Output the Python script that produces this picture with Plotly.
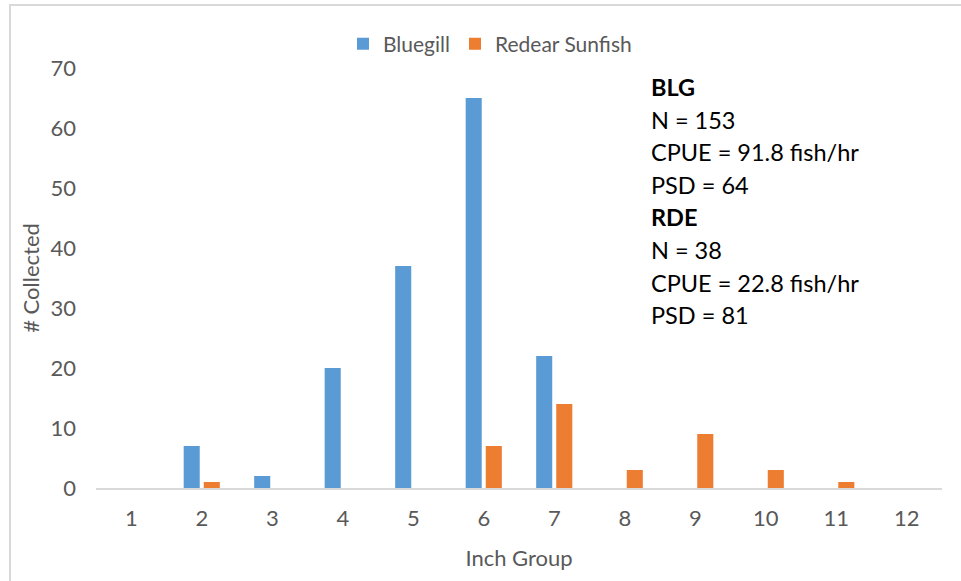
import plotly.graph_objects as go

inch_groups = ["1", "2", "3", "4", "5", "6", "7", "8", "9", "10", "11", "12"]
bluegill = [0, 7, 2, 20, 37, 65, 22, 0, 0, 0, 0, 0]
redear = [0, 1, 0, 0, 0, 7, 14, 3, 9, 3, 1, 0]
stats_lines = ["<b>BLG</b>", "N = 153", "CPUE = 91.8 fish/hr", "PSD = 64",
               "<b>RDE</b>", "N = 38", "CPUE = 22.8 fish/hr", "PSD = 81"]

FONT = "Lato, 'Open Sans', sans-serif"
GRAY = "#595959"

fig = go.Figure()
fig.add_trace(go.Bar(x=inch_groups, y=bluegill, name="Bluegill",
                     marker=dict(color="#5B9BD5", line=dict(width=0))))
fig.add_trace(go.Bar(x=inch_groups, y=redear, name="Redear Sunfish",
                     marker=dict(color="#ED7D31", line=dict(width=0))))

W, H = 961, 581
ml, mr, mt, mb = 96, 19, 68, 93
pw, ph = W - ml - mr, H - mt - mb

def px_to_paper_x(px):
    return (px - ml) / pw

def px_to_paper_y(py):
    return (H - mb - py) / ph

annotations = []
for i, line in enumerate(stats_lines):
    annotations.append(dict(
        text=line, xref="paper", yref="paper",
        x=px_to_paper_x(649), y=px_to_paper_y(87 + i * 32.6),
        xanchor="left", yanchor="middle", showarrow=False, align="left",
        font=dict(family=FONT, size=23.5, color="#000000")))

fig.update_layout(
    width=W, height=H,
    margin=dict(l=ml, r=mr, t=mt, b=mb, autoexpand=False),
    paper_bgcolor="white", plot_bgcolor="white",
    barmode="group", bargap=0.43, bargroupgap=0.2,
    font=dict(family=FONT, size=21, color=GRAY),
    legend=dict(orientation="h", x=px_to_paper_x(490), y=px_to_paper_y(44),
                xanchor="center", yanchor="middle",
                font=dict(family=FONT, size=21, color=GRAY),
                itemwidth=30, bgcolor="rgba(0,0,0,0)"),
    xaxis=dict(type="category", showline=True, linecolor="#D9D9D9", linewidth=2,
               showgrid=False, ticks="", tickfont=dict(size=22, color=GRAY),
               ticklabelstandoff=10, automargin=False,
               title=dict(text="Inch Group", font=dict(size=22, color=GRAY), standoff=20)),
    yaxis=dict(range=[0, 70], dtick=10, showline=False, showgrid=False,
               zeroline=False, ticks="", tickfont=dict(size=22, color=GRAY),
               ticklabelstandoff=19, automargin=False,
               title=dict(text="# Collected", font=dict(size=22, color=GRAY), standoff=4)),
    annotations=annotations,
    shapes=[dict(type="rect", xref="paper", yref="paper",
                 x0=px_to_paper_x(10), x1=px_to_paper_x(965),
                 y0=px_to_paper_y(585), y1=px_to_paper_y(5),
                 line=dict(color="#D9D9D9", width=2), layer="below")],
)

fig.write_html("out.html", config={"displayModeBar": False},
               post_script="document.body.style.margin='0';document.body.style.overflow='hidden';")
